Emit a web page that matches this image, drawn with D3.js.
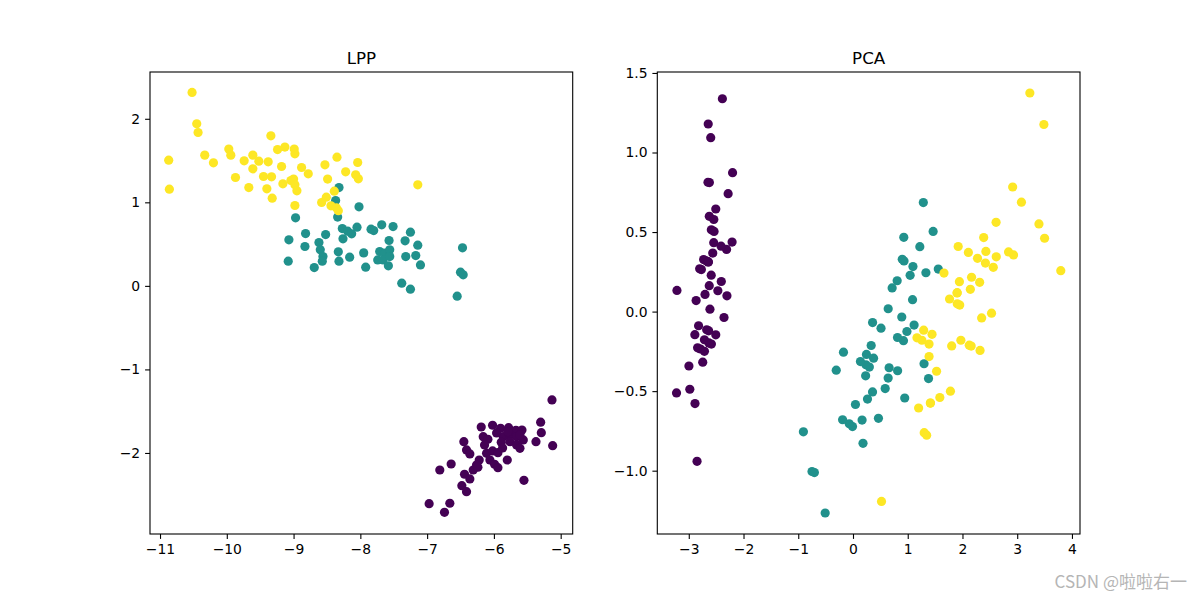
<!DOCTYPE html>
<html><head><meta charset="utf-8">
<script src="https://cdn.jsdelivr.net/npm/d3@7"></script>
<style>
body{margin:0;background:#fff;}
svg{display:block;font-family:"DejaVu Sans",sans-serif;}
</style></head>
<body><div id="chart"></div>
<script>
const classColors = ["#440154", "#21918c", "#fde725"];
const titles = ["LPP", "PCA"];

// LPP embedding
const lppSetosa = [[-5.13,-1.365],[-5.30,-1.632],[-5.29,-1.757],[-5.37,-1.865],[-5.12,-1.913],[-6.19,-1.689],[-6.02,-1.668],[-5.90,-1.704],[-5.78,-1.697],[-5.67,-1.728],[-5.58,-1.725],[-6.16,-1.805],[-6.09,-1.836],[-5.86,-1.805],[-5.76,-1.784],[-5.66,-1.805],[-5.56,-1.844],[-5.89,-1.872],[-5.76,-1.865],[-5.66,-1.904],[-5.61,-1.944],[-6.45,-1.865],[-6.41,-1.964],[-6.36,-2.012],[-6.22,-2.084],[-6.11,-2.004],[-6.02,-1.976],[-5.94,-1.996],[-6.06,-2.084],[-5.99,-2.135],[-5.94,-2.176],[-5.80,-2.084],[-6.26,-2.144],[-6.31,-2.204],[-6.44,-2.255],[-6.36,-2.311],[-6.64,-2.132],[-6.81,-2.204],[-5.55,-2.327],[-6.48,-2.392],[-6.41,-2.463],[-6.97,-2.607],[-6.66,-2.602],[-6.74,-2.710],[-5.79,-1.745],[-5.61,-1.784],[-5.96,-1.760],[-6.14,-1.904],[-5.87,-1.940],[-6.24,-2.170]];
const lppVersicolor = [[-8.32,1.177],[-8.37,1.022],[-8.02,0.946],[-8.97,0.814],[-8.34,0.823],[-9.07,0.551],[-8.82,0.626],[-8.83,0.471],[-9.08,0.296],[-8.69,0.219],[-8.62,0.519],[-8.60,0.431],[-8.56,0.351],[-8.57,0.296],[-8.52,0.614],[-8.33,0.407],[-8.32,0.296],[-8.27,0.686],[-8.26,0.563],[-8.19,0.655],[-8.13,0.623],[-8.05,0.703],[-8.16,0.344],[-7.95,0.395],[-7.92,0.224],[-7.84,0.679],[-7.80,0.662],[-7.68,0.731],[-7.51,0.710],[-7.57,0.543],[-7.71,0.411],[-7.63,0.392],[-7.56,0.431],[-7.74,0.311],[-7.66,0.311],[-7.58,0.240],[-7.56,0.351],[-7.25,0.643],[-7.33,0.539],[-7.14,0.487],[-7.32,0.351],[-7.17,0.363],[-7.10,0.251],[-7.38,0.032],[-7.25,-0.040],[-6.47,0.455],[-6.50,0.164],[-6.46,0.132],[-6.55,-0.123]];
const lppVirginica = [[-10.52,2.315],[-10.45,1.940],[-10.43,1.836],[-10.87,1.505],[-10.86,1.158],[-10.33,1.565],[-10.20,1.473],[-9.97,1.637],[-9.94,1.565],[-9.87,1.297],[-9.74,1.497],[-9.67,1.177],[-9.61,1.565],[-9.61,1.401],[-9.52,1.493],[-9.45,1.309],[-9.38,1.485],[-9.40,1.162],[-9.34,1.796],[-9.33,1.305],[-9.32,1.050],[-9.24,1.632],[-9.18,1.429],[-9.16,1.222],[-9.13,1.661],[-9.04,1.261],[-8.99,1.637],[-8.98,1.581],[-9.00,1.278],[-8.98,1.210],[-8.95,1.138],[-8.98,0.962],[-8.88,1.417],[-8.78,1.341],[-8.53,1.449],[-8.35,1.541],[-8.04,1.477],[-8.22,1.365],[-8.49,1.278],[-8.07,1.329],[-8.03,1.281],[-7.14,1.210],[-8.39,1.134],[-8.51,1.062],[-8.58,0.998],[-8.44,0.958],[-8.36,0.934],[-8.33,0.900]];

// PCA projection
const pcaSetosa = [[-2.684,0.319],[-2.714,-0.177],[-2.889,-0.145],[-2.745,-0.318],[-2.729,0.327],[-2.281,0.741],[-2.821,-0.089],[-2.626,0.163],[-2.886,-0.578],[-2.673,-0.114],[-2.507,0.645],[-2.613,0.015],[-2.786,-0.235],[-3.224,-0.511],[-2.645,1.179],[-2.386,1.338],[-2.624,0.811],[-2.648,0.312],[-2.200,0.873],[-2.588,0.514],[-2.310,0.391],[-2.544,0.433],[-3.216,0.133],[-2.303,0.099],[-2.356,-0.037],[-2.507,-0.146],[-2.469,0.131],[-2.562,0.368],[-2.640,0.312],[-2.632,-0.197],[-2.587,-0.204],[-2.410,0.411],[-2.649,0.813],[-2.599,1.093],[-2.637,-0.121],[-2.866,0.069],[-2.625,0.599],[-2.801,0.269],[-2.981,-0.488],[-2.590,0.229],[-2.770,0.264],[-2.849,-0.941],[-2.997,-0.342],[-2.406,0.189],[-2.209,0.437],[-2.714,-0.250],[-2.538,0.504],[-2.839,-0.228],[-2.543,0.579],[-2.703,0.108]];
const pcaVersicolor = [[1.285,0.685],[0.932,0.318],[1.464,0.504],[0.183,-0.828],[1.088,0.075],[0.642,-0.418],[1.095,0.283],[-0.749,-1.005],[1.044,0.228],[-0.009,-0.723],[-0.508,-1.266],[0.512,-0.104],[0.265,-0.550],[0.985,-0.125],[-0.174,-0.255],[0.928,0.467],[0.660,-0.353],[0.236,-0.334],[0.945,-0.543],[0.045,-0.584],[1.116,-0.085],[0.358,-0.069],[1.298,-0.328],[0.922,-0.183],[0.715,0.149],[0.900,0.329],[1.332,0.244],[1.558,0.267],[0.813,-0.163],[-0.306,-0.368],[-0.068,-0.705],[-0.190,-0.680],[0.136,-0.314],[1.380,-0.421],[0.588,-0.484],[0.807,0.194],[1.221,0.408],[0.815,-0.372],[0.246,-0.269],[0.166,-0.682],[0.465,-0.671],[0.891,-0.034],[0.231,-0.404],[-0.705,-1.012],[0.357,-0.505],[0.332,-0.213],[0.376,-0.293],[0.643,0.018],[-0.906,-0.756],[0.299,-0.349]];
const pcaVirginica = [[2.531,-0.010],[1.414,-0.575],[2.617,0.344],[1.971,-0.180],[2.350,-0.040],[3.397,0.551],[0.521,-1.193],[2.933,0.356],[2.321,-0.244],[2.917,0.783],[1.662,0.242],[1.803,-0.216],[2.166,0.216],[1.346,-0.777],[1.586,-0.540],[1.904,0.119],[1.950,0.041],[3.487,1.176],[3.796,0.257],[1.301,-0.761],[2.428,0.378],[1.199,-0.606],[3.500,0.461],[1.389,-0.204],[2.275,0.335],[2.614,0.561],[1.259,-0.180],[1.291,-0.117],[2.124,-0.211],[2.388,0.465],[2.842,0.375],[3.231,1.374],[2.159,-0.217],[1.444,-0.143],[1.780,-0.500],[3.077,0.688],[2.144,0.140],[1.905,0.049],[1.169,-0.165],[2.108,0.372],[2.314,0.184],[1.922,0.409],[1.414,-0.575],[2.563,0.278],[2.419,0.305],[1.944,0.188],[1.527,-0.375],[1.764,0.079],[1.901,0.117],[1.390,-0.283]];

const lppXTicks = [-11,-10,-9,-8,-7,-6,-5];
const lppYTicks = [-2,-1,0,1,2];
const pcaXTicks = [-3,-2,-1,0,1,2,3,4];
const pcaYTicks = [-1.0,-0.5,0.0,0.5,1.0,1.5];

const W = 1200, H = 600;
const svg = d3.select("#chart").append("svg").attr("width", W).attr("height", H);

const axTop = 72, axBottom = 534;
const panels = [
  {title: titles[0], left: 150, right: 572.7, xDom: [-11.15,-4.82], yDom: [-2.97,2.56],
   groups: [lppSetosa, lppVersicolor, lppVirginica], xt: lppXTicks, yt: lppYTicks, fmt: d3.format("d")},
  {title: titles[1], left: 657.3, right: 1080, xDom: [-3.575,4.147], yDom: [-1.398,1.506],
   groups: [pcaSetosa, pcaVersicolor, pcaVirginica], xt: pcaXTicks, yt: pcaYTicks, fmt: d3.format(".1f"), xfmt: d3.format("d")}
];

panels.forEach(p => {
  const x = d3.scaleLinear().domain(p.xDom).range([p.left, p.right]);
  const y = d3.scaleLinear().domain(p.yDom).range([axBottom, axTop]);
  const g = svg.append("g");
  p.groups.forEach((pts, i) => {
    g.append("g").selectAll("circle").data(pts).join("circle")
      .attr("cx", d => x(d[0])).attr("cy", d => y(d[1])).attr("r", 4.6)
      .attr("fill", classColors[i]);
  });
  const xa = svg.append("g").attr("transform", `translate(0,${axBottom})`)
    .call(d3.axisBottom(x).tickValues(p.xt).tickFormat(p.xfmt || p.fmt).tickSize(4.9).tickPadding(4.9).tickSizeOuter(0));
  const ya = svg.append("g").attr("transform", `translate(${p.left},0)`)
    .call(d3.axisLeft(y).tickValues(p.yt).tickFormat(p.fmt).tickSize(4.9).tickPadding(4.9).tickSizeOuter(0));
  [xa, ya].forEach(a => {
    a.select(".domain").remove();
    a.selectAll("line").attr("stroke", "#000").attr("stroke-width", 1.1);
    a.selectAll("text").attr("font-size", "13.9px").attr("fill", "#000").attr("font-family", "DejaVu Sans");
  });
  svg.append("rect").attr("x", p.left).attr("y", axTop).attr("width", p.right - p.left).attr("height", axBottom - axTop)
    .attr("fill", "none").attr("stroke", "#000").attr("stroke-width", 1.1);
  svg.append("text").attr("x", (p.left + p.right) / 2).attr("y", 64).attr("text-anchor", "middle")
    .attr("font-size", "16.7px").attr("font-family", "DejaVu Sans").text(p.title);
});

svg.append("text").attr("x", 1187).attr("y", 588).attr("text-anchor", "end")
  .attr("font-size", "17px").attr("font-family", "Noto Sans CJK SC, sans-serif").attr("fill", "#b5b5b5")
  .text("CSDN @啦啦右一");
</script></body></html>
